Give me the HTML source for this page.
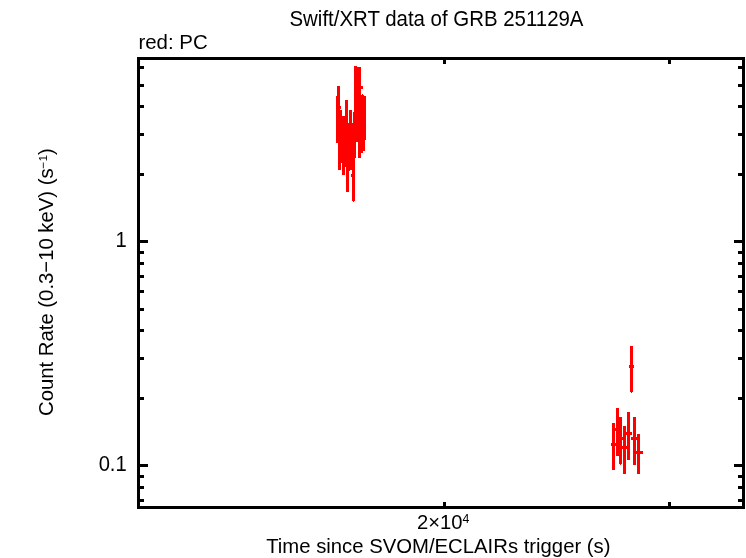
<!DOCTYPE html>
<html lang="en">
<head>
<meta charset="utf-8">
<title>Swift/XRT data of GRB 251129A</title>
<style>
html,body{margin:0;padding:0;background:#fff;}
body{width:746px;height:558px;overflow:hidden;}
svg{display:block;}
text{font-family:"Liberation Sans",sans-serif;font-size:20.5px;fill:#000;}
</style>
</head>
<body>
<svg width="746" height="558" viewBox="0 0 746 558">
<rect x="0" y="0" width="746" height="558" fill="#fff"/>
<g fill="#000" shape-rendering="crispEdges"><rect x="137" y="57" width="608" height="3"/><rect x="137" y="506" width="608" height="3"/><rect x="137" y="57" width="3" height="452"/><rect x="742" y="57" width="3" height="452"/><rect x="137" y="66" width="7" height="3"/><rect x="738" y="66" width="7" height="3"/><rect x="137" y="84" width="7" height="3"/><rect x="738" y="84" width="7" height="3"/><rect x="137" y="105" width="7" height="3"/><rect x="738" y="105" width="7" height="3"/><rect x="137" y="133" width="7" height="3"/><rect x="738" y="133" width="7" height="3"/><rect x="137" y="173" width="7" height="3"/><rect x="738" y="173" width="7" height="3"/><rect x="137" y="251" width="7" height="3"/><rect x="738" y="251" width="7" height="3"/><rect x="137" y="262" width="7" height="3"/><rect x="738" y="262" width="7" height="3"/><rect x="137" y="275" width="7" height="3"/><rect x="738" y="275" width="7" height="3"/><rect x="137" y="290" width="7" height="3"/><rect x="738" y="290" width="7" height="3"/><rect x="137" y="308" width="7" height="3"/><rect x="738" y="308" width="7" height="3"/><rect x="137" y="329" width="7" height="3"/><rect x="738" y="329" width="7" height="3"/><rect x="137" y="357" width="7" height="3"/><rect x="738" y="357" width="7" height="3"/><rect x="137" y="397" width="7" height="3"/><rect x="738" y="397" width="7" height="3"/><rect x="137" y="475" width="7" height="3"/><rect x="738" y="475" width="7" height="3"/><rect x="137" y="486" width="7" height="3"/><rect x="738" y="486" width="7" height="3"/><rect x="137" y="499" width="7" height="3"/><rect x="738" y="499" width="7" height="3"/><rect x="137" y="240" width="11" height="3"/><rect x="734" y="240" width="11" height="3"/><rect x="137" y="464" width="11" height="3"/><rect x="734" y="464" width="11" height="3"/><rect x="443" y="57" width="3" height="7"/><rect x="443" y="502" width="3" height="7"/><rect x="668" y="57" width="3" height="7"/><rect x="668" y="502" width="3" height="7"/></g>
<g fill="#f00" shape-rendering="crispEdges"><rect x="336" y="96" width="1" height="47"/><rect x="337" y="86" width="1" height="57"/><rect x="338" y="86" width="2" height="84"/><rect x="340" y="106" width="1" height="3"/><rect x="340" y="110" width="1" height="60"/><rect x="341" y="110" width="1" height="53"/><rect x="342" y="116" width="3" height="59"/><rect x="345" y="100" width="1" height="67"/><rect x="346" y="100" width="2" height="92"/><rect x="348" y="123" width="1" height="69"/><rect x="349" y="110" width="1" height="61"/><rect x="350" y="110" width="1" height="60"/><rect x="351" y="110" width="1" height="60"/><rect x="351" y="174" width="1" height="3"/><rect x="352" y="123" width="1" height="78"/><rect x="353" y="112" width="1" height="90"/><rect x="354" y="66" width="1" height="135"/><rect x="355" y="66" width="1" height="92"/><rect x="356" y="66" width="1" height="76"/><rect x="357" y="67" width="1" height="75"/><rect x="358" y="67" width="3" height="91"/><rect x="361" y="86" width="1" height="3"/><rect x="361" y="95" width="1" height="58"/><rect x="362" y="86" width="1" height="3"/><rect x="362" y="94" width="1" height="59"/><rect x="363" y="95" width="1" height="56"/><rect x="364" y="96" width="1" height="55"/><rect x="365" y="96" width="1" height="44"/><rect x="612" y="423" width="3" height="47"/><rect x="611" y="443" width="5" height="3"/><rect x="616" y="408" width="3" height="48"/><rect x="615" y="428" width="5" height="3"/><rect x="619" y="417" width="3" height="47"/><rect x="620" y="464" width="1" height="1"/><rect x="618" y="437" width="5" height="3"/><rect x="623" y="426" width="3" height="48"/><rect x="621" y="446" width="7" height="3"/><rect x="627" y="412" width="3" height="48"/><rect x="625" y="432" width="7" height="3"/><rect x="633" y="417" width="3" height="48"/><rect x="631" y="437" width="7" height="3"/><rect x="637" y="434" width="3" height="40"/><rect x="634" y="451" width="9" height="3"/><rect x="630" y="346" width="3" height="46"/><rect x="631" y="392" width="1" height="1"/><rect x="629" y="365" width="5" height="3"/></g>
<text transform="translate(289.5,26) scale(1,1.05)" textLength="294" lengthAdjust="spacingAndGlyphs">Swift/XRT data of GRB 251129A</text>
<text x="138.4" y="49" textLength="69.3" lengthAdjust="spacingAndGlyphs">red: PC</text>
<text transform="translate(126.7,247) scale(1,1.05)" text-anchor="end" style="font-size:20.2px">1</text>
<text transform="translate(126.7,471) scale(1,1.05)" text-anchor="end" style="font-size:20.2px">0.1</text>
<text x="417" y="528.5" style="font-size:20.2px">2×10<tspan style="font-size:12.3px" dy="-6">4</tspan></text>
<text x="266.2" y="553" textLength="344.3" lengthAdjust="spacingAndGlyphs">Time since SVOM/ECLAIRs trigger (s)</text>
<text transform="translate(53,415.9) rotate(-90)" x="0" y="0" textLength="267.6" lengthAdjust="spacingAndGlyphs">Count Rate (0.3−10 keV) (s<tspan style="font-size:11.8px" dy="-5.6">−1</tspan><tspan dy="5.6">)</tspan></text>
</svg>
</body>
</html>
